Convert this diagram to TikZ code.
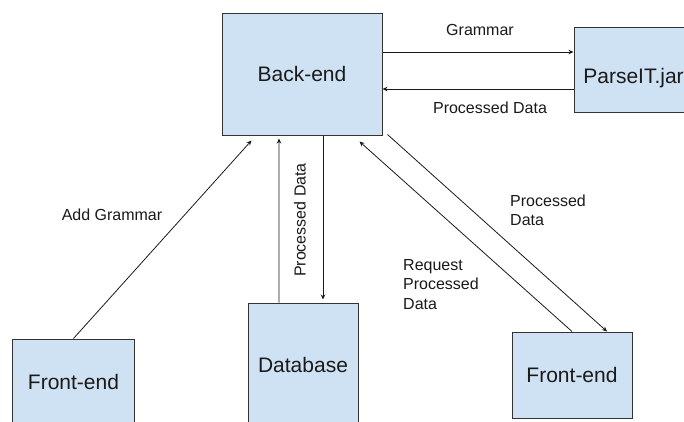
\documentclass[tikz,border=0pt]{standalone}
\usepackage{fontspec}
\setmainfont{Liberation Sans}
\usetikzlibrary{arrows.meta}
\definecolor{boxfill}{HTML}{CFE2F3}
\definecolor{boxline}{HTML}{333333}
\definecolor{ink}{HTML}{1A1A1A}
\begin{document}
\begin{tikzpicture}[x=1bp,y=-1bp,
  block/.style={draw=boxline,line width=1bp,fill=boxfill,text=ink,inner sep=0pt,
    font=\fontsize{21bp}{25bp}\selectfont},
  boxtext/.style={text=ink,inner sep=0pt,font=\fontsize{21bp}{25bp}\selectfont},
  flow/.style={draw=ink,line width=0.8bp,-{Stealth[length=5bp,width=4.5bp]}},
  tag/.style={text=ink,inner sep=0pt,align=left,font=\fontsize{16bp}{19.5bp}\selectfont}]
\clip (0,0) rectangle (684,421);
\fill[white] (0,0) rectangle (684,421);

% boxes
\node[block,minimum width=160bp,minimum height=122bp] (be) at (302,74) {Back-end};
\node[block,minimum width=124bp,minimum height=85bp] (pj) at (636,69.5) {};
\node[boxtext] (pjt) at (633.5,78) {ParseIT.jar};
\node[block,minimum width=121bp,minimum height=86bp] (fl) at (73.5,382) {Front-end};
\node[block,minimum width=110bp,minimum height=124bp] (db) at (303,365) {Database};
\node[block,minimum width=120bp,minimum height=86bp] (fr) at (572,375) {Front-end};

% Back-end <-> ParseIT.jar
\draw[flow] ([yshift=22bp]be.east) -- ([yshift=22bp]be.east -| pj.west);
\draw[flow] ([yshift=-15bp]be.east -| pj.west) -- ([yshift=-15bp]be.east);
\node[tag] (lgram) at (480,30) {Grammar};
\node[tag] (lproc1) at (490,108) {Processed Data};

% left Front-end -> Back-end
\draw[flow] (fl.north) -- ([xshift=30bp,yshift=-5bp]be.south west);
\node[tag] (ladd) at (112,215) {Add Grammar};

% Database <-> Back-end
\draw[flow] ([xshift=-24bp]db.north) -- ([xshift=-23bp,yshift=-3bp]be.south);
\draw[flow] ([xshift=21bp]be.south) -- ([xshift=20bp,yshift=3bp]db.north);
\node[tag,rotate=90] (lproc2) at (300,220) {Processed Data};

% right Front-end <-> Back-end
\draw[flow] (fr.north) -- ([xshift=-23bp,yshift=-6bp]be.south east);
\draw[flow] ([xshift=5bp,yshift=1bp]be.south east) -- ([xshift=35bp]fr.north);
\node[tag,anchor=west] (lreq) at (403,284.5) {Request\\Processed\\Data};
\node[tag,anchor=west] (lproc3) at (510,210.5) {Processed\\Data};
\end{tikzpicture}
\end{document}
